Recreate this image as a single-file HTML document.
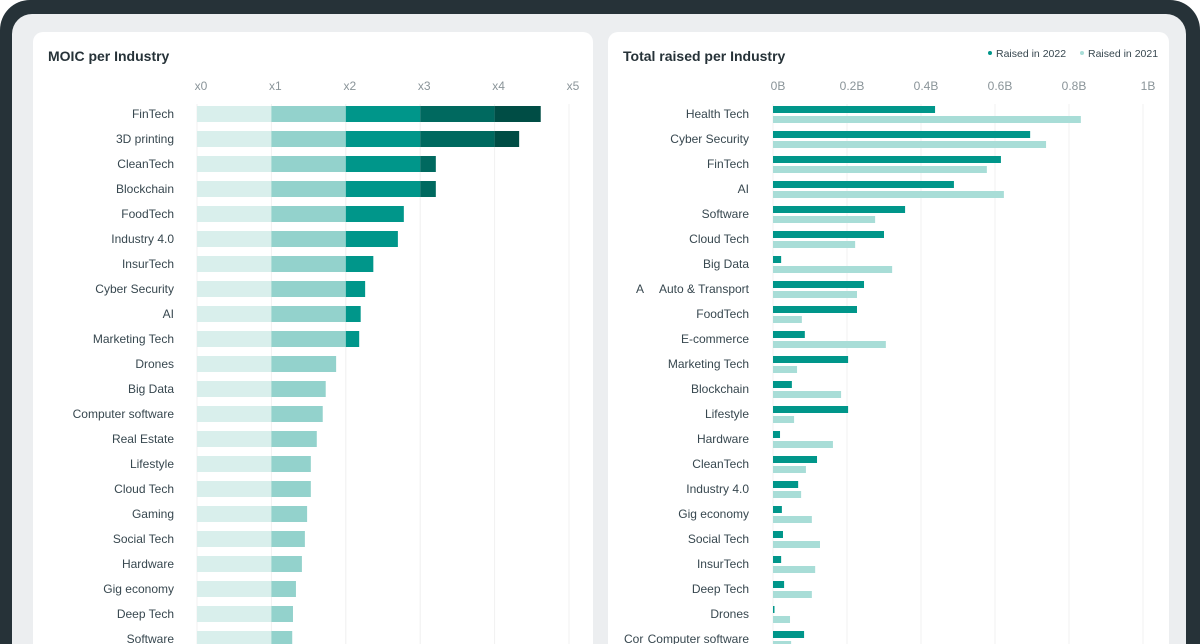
<!DOCTYPE html>
<html style="margin:0;width:1200px;height:644px;overflow:hidden"><head><meta charset="utf-8"><style>
body{margin:0;width:1200px;height:644px;overflow:hidden;background:#fff;font-family:"Liberation Sans",sans-serif;position:relative}
#frame{position:absolute;left:0;top:0;width:1200px;height:644px;background:#263238;border-radius:30px 30px 0 0}
#inner{position:absolute;left:12px;top:14px;width:1174px;height:630px;background:#eceef0;border-radius:20px 20px 0 0}
.card{position:absolute;top:32px;height:612px;background:#fff;border-radius:10px 10px 0 0}
.title{position:absolute;left:15px;top:16px;font-size:14px;font-weight:bold;color:#263238}
svg{position:absolute;left:0;top:0}
</style></head><body>
<div id="frame"></div>
<div id="inner"></div>
<div class="card" style="left:33px;width:560px"><div class="title">MOIC per Industry</div></div>
<div class="card" style="left:608px;width:561px"><div class="title">Total raised per Industry</div></div>
<svg id="chart" width="1200" height="644"></svg>
<script>
const moicCats=["FinTech","3D printing","CleanTech","Blockchain","FoodTech","Industry 4.0","InsurTech","Cyber Security","AI","Marketing Tech","Drones","Big Data","Computer software","Real Estate","Lifestyle","Cloud Tech","Gaming","Social Tech","Hardware","Gig economy","Deep Tech","Software"];
const moicVals=[4.62,4.33,3.21,3.21,2.78,2.70,2.37,2.26,2.20,2.18,1.87,1.73,1.69,1.61,1.53,1.53,1.48,1.45,1.41,1.33,1.29,1.28];
const moicTicks=["x0","x1","x2","x3","x4","x5"];
const raisedCats=["Health Tech","Cyber Security","FinTech","AI","Software","Cloud Tech","Big Data","Auto & Transport","FoodTech","E-commerce","Marketing Tech","Blockchain","Lifestyle","Hardware","CleanTech","Industry 4.0","Gig economy","Social Tech","InsurTech","Deep Tech","Drones","Computer software"];
const raised2022=[0.438,0.695,0.616,0.489,0.357,0.30,0.022,0.246,0.227,0.086,0.203,0.051,0.203,0.019,0.119,0.068,0.024,0.027,0.022,0.030,0.004,0.084];
const raised2021=[0.832,0.738,0.578,0.624,0.276,0.222,0.322,0.227,0.078,0.305,0.065,0.184,0.057,0.162,0.089,0.076,0.105,0.127,0.114,0.105,0.046,0.049];
const raisedTicks=["0B","0.2B","0.4B","0.6B","0.8B","1B"];
const svg=document.getElementById('chart');
const NS='http://www.w3.org/2000/svg';
function mk(t,a){const e=document.createElementNS(NS,t);for(const k in a)e.setAttribute(k,a[k]);svg.appendChild(e);return e;}
const xL=v=>197+v*74.4, xR=v=>773+v*370, yRow=i=>114+i*25;
const segCol=["#d9efec","#93d2cc","#00968a","#00695f","#004d45"];
moicTicks.forEach((t,i)=>{
 const g=mk('line',{x1:xL(i),x2:xL(i),y1:104,y2:644,stroke:'#f0f0f0'});
 
 const tx=mk('text',{x:xL(i)+4,y:90,'font-size':12,fill:'#8a9499','text-anchor':'middle'});tx.textContent=t;
 
});
moicCats.forEach((c,i)=>{
 const y=yRow(i);
 const l=mk('text',{x:174,y:y+4,'font-size':12,fill:'#37474f','text-anchor':'end'});l.textContent=c;
 
 const v=moicVals[i];
 for(let s=0;s<5&&s<v;s++){
  const r=mk('rect',{x:xL(s),y:y-8,width:xL(Math.min(v,s+1))-xL(s),height:16,fill:segCol[s]});
  
 }
});
raisedTicks.forEach((t,i)=>{
 const v=i*0.2;
 const g=mk('line',{x1:xR(v),x2:xR(v),y1:104,y2:644,stroke:'#f0f0f0'});
 
 const tx=mk('text',{x:xR(v)+5,y:90,'font-size':12,fill:'#8a9499','text-anchor':'middle'});tx.textContent=t;
 
});
raisedCats.forEach((c,i)=>{
 const y=yRow(i);
 const l=mk('text',{x:749,y:y+4,'font-size':12,fill:'#37474f','text-anchor':'end'});l.textContent=c;
 
 const a=mk('rect',{x:xR(0),y:y-8,width:Math.max(1,xR(raised2022[i])-xR(0)),height:7,fill:'#00968a'});
 
 const b=mk('rect',{x:xR(0),y:y+2,width:xR(raised2021[i])-xR(0),height:7,fill:'#a8ddd7'});
 
});
const ov1=mk('text',{x:636,y:yRow(7)+4,'font-size':12,fill:'#37474f'});ov1.textContent='A';

const ov2=mk('text',{x:624,y:yRow(21)+4,'font-size':12,fill:'#37474f'});ov2.textContent='Cor';

[[990,'#00968a','Raised in 2022'],[1082,'#a8ddd7','Raised in 2021']].forEach(([x,c,t])=>{
 const d=mk('circle',{cx:x,cy:53,r:2,fill:c});
 
 const tx=mk('text',{x:x+6,y:57,'font-size':10.5,fill:'#37474f'});tx.textContent=t;
 
});
</script>
</body></html>
